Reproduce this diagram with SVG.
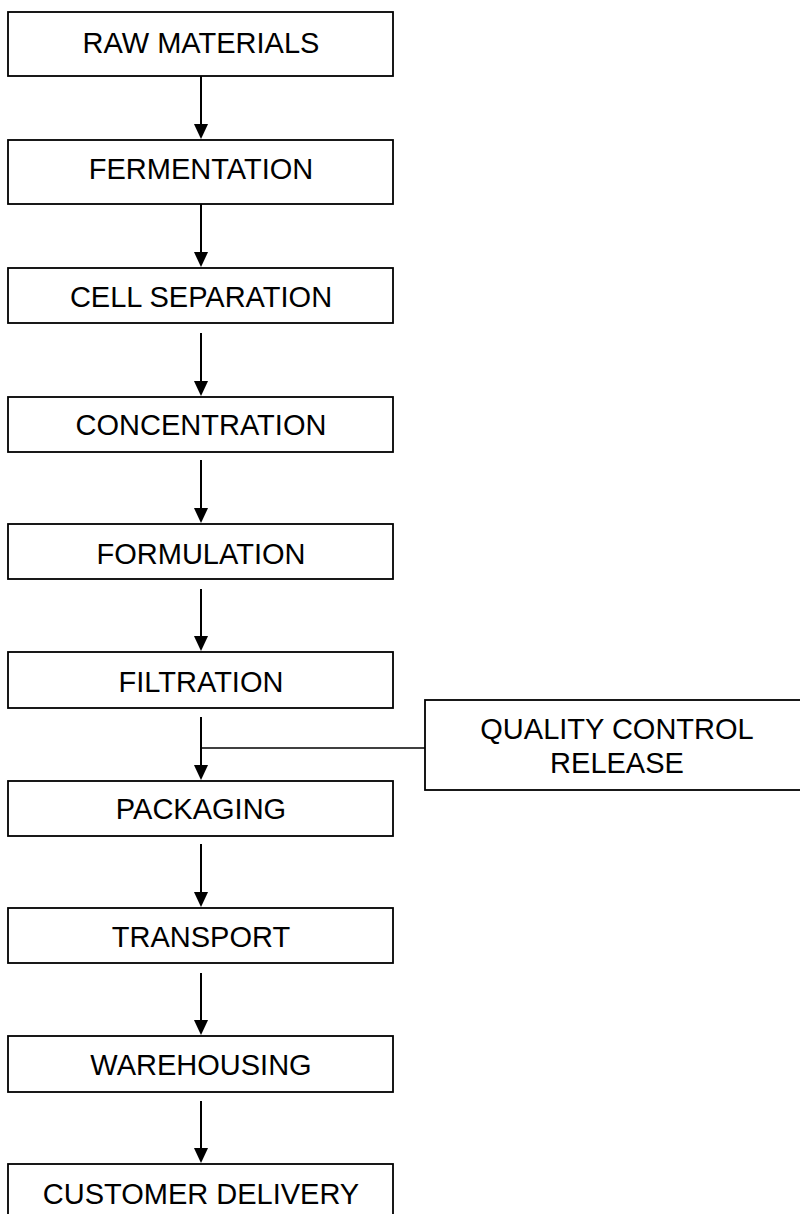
<svg xmlns="http://www.w3.org/2000/svg" width="800" height="1214" viewBox="0 0 800 1214">
  <style>
    .box { fill: #ffffff; stroke: #000000; stroke-width: 1.8; }
    .label { font-family: "Liberation Sans", Arial, sans-serif; font-size: 29px; fill: #000000; text-anchor: middle; }
    .flow { fill: none; stroke: #000000; stroke-width: 2; }
    .feed { fill: none; stroke: #000000; stroke-width: 1.4; }
  </style>
  <defs>
    <!-- solid triangular head, drawn from the line end forward -->
    <marker id="head" markerUnits="userSpaceOnUse" markerWidth="15" markerHeight="16" viewBox="0 0 16 15" refX="0" refY="7.5" orient="auto">
      <path d="M0,0 L16,7.5 L0,15 Z" fill="#000000"/>
    </marker>
  </defs>
  <rect width="800" height="1214" fill="#ffffff"/>

  <!-- connectors -->
  <g id="connectors">
    <line class="flow" x1="201" y1="76" x2="201" y2="124" marker-end="url(#head)"/>
    <line class="flow" x1="201" y1="204" x2="201" y2="252" marker-end="url(#head)"/>
    <line class="flow" x1="201" y1="333" x2="201" y2="381" marker-end="url(#head)"/>
    <line class="flow" x1="201" y1="460" x2="201" y2="508" marker-end="url(#head)"/>
    <line class="flow" x1="201" y1="589" x2="201" y2="636" marker-end="url(#head)"/>
    <line class="flow" x1="201" y1="717" x2="201" y2="765" marker-end="url(#head)"/>
    <line class="feed" x1="201" y1="748" x2="425" y2="748"/>
    <line class="flow" x1="201" y1="844" x2="201" y2="892" marker-end="url(#head)"/>
    <line class="flow" x1="201" y1="973" x2="201" y2="1020" marker-end="url(#head)"/>
    <line class="flow" x1="201" y1="1101" x2="201" y2="1148" marker-end="url(#head)"/>
  </g>

  <!-- process steps -->
  <g id="raw-materials">
    <rect class="box" x="8" y="12" width="385" height="64"/>
    <text class="label" x="201" y="53">RAW MATERIALS</text>
  </g>
  <g id="fermentation">
    <rect class="box" x="8" y="140" width="385" height="64"/>
    <text class="label" x="201" y="179">FERMENTATION</text>
  </g>
  <g id="cell-separation">
    <rect class="box" x="8" y="268" width="385" height="55"/>
    <text class="label" x="201" y="306.5">CELL SEPARATION</text>
  </g>
  <g id="concentration">
    <rect class="box" x="8" y="397" width="385" height="55"/>
    <text class="label" x="201" y="435">CONCENTRATION</text>
  </g>
  <g id="formulation">
    <rect class="box" x="8" y="524" width="385" height="55"/>
    <text class="label" x="201" y="564">FORMULATION</text>
  </g>
  <g id="filtration">
    <rect class="box" x="8" y="652" width="385" height="56"/>
    <text class="label" x="201" y="691.5">FILTRATION</text>
  </g>
  <g id="quality-control-release">
    <rect class="box" x="425" y="700" width="385" height="90"/>
    <text class="label" x="617" y="739">QUALITY CONTROL</text>
    <text class="label" x="617" y="773">RELEASE</text>
  </g>
  <g id="packaging">
    <rect class="box" x="8" y="781" width="385" height="55"/>
    <text class="label" x="201" y="819">PACKAGING</text>
  </g>
  <g id="transport">
    <rect class="box" x="8" y="908" width="385" height="55"/>
    <text class="label" x="201" y="947">TRANSPORT</text>
  </g>
  <g id="warehousing">
    <rect class="box" x="8" y="1036" width="385" height="56"/>
    <text class="label" x="201" y="1075">WAREHOUSING</text>
  </g>
  <g id="customer-delivery">
    <rect class="box" x="8" y="1164" width="385" height="60"/>
    <text class="label" x="201" y="1204">CUSTOMER DELIVERY</text>
  </g>
</svg>
